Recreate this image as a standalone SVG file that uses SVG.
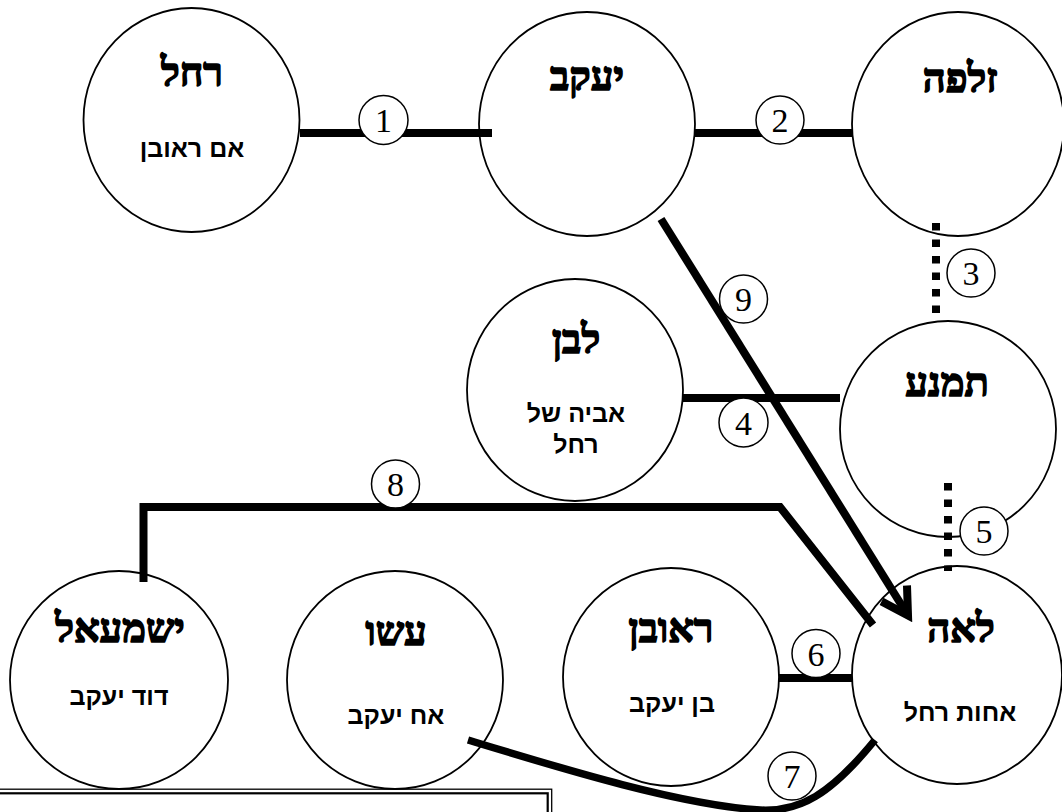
<svg xmlns="http://www.w3.org/2000/svg" width="1062" height="812" viewBox="0 0 1062 812">
<style>
.node{fill:#fff;stroke:#000;stroke-width:1.8}
.title{font-family:"Liberation Serif","DejaVu Serif",serif;font-weight:bold;font-size:40px;text-anchor:middle;fill:#000;stroke:#000;stroke-width:1.6;stroke-linejoin:round}
.sub{font-family:"Liberation Sans","DejaVu Sans",sans-serif;font-weight:bold;font-size:25px;text-anchor:middle;fill:#000}
.conn{fill:none;stroke:#000;stroke-width:8}
.dot{fill:none;stroke:#000;stroke-width:8;stroke-dasharray:7.5 9}
.lbl circle{fill:#fff;stroke:#000;stroke-width:1.5}
.lbl text{font-family:"Liberation Serif",serif;font-size:34px;text-anchor:middle;fill:#000}
</style>
<defs>
<marker id="arrow" markerUnits="userSpaceOnUse" viewBox="-36 -24 44 48" markerWidth="44" markerHeight="48" refX="0" refY="0" orient="auto">
<path d="M-26,-15 L0,0 L-26,15" fill="none" stroke="#000" stroke-width="8" stroke-linejoin="miter"/>
</marker>
</defs>
<rect width="1062" height="812" fill="#fff"/>
<g id="frame">
<rect x="-10" y="789.2" width="561.7" height="60" fill="none" stroke="#000" stroke-width="1.3"/>
<rect x="-10" y="793.3" width="557.7" height="60" fill="none" stroke="#000" stroke-width="2.2"/>
</g>
<g id="rachel"><ellipse class="node" cx="191.5" cy="120" rx="108" ry="112"/><text class="title" x="192" y="86">רחל</text><text class="sub" x="192" y="157">אם ראובן</text></g>
<g id="yaakov"><ellipse class="node" cx="587" cy="124" rx="108" ry="112"/><text class="title" x="587" y="90">יעקב</text></g>
<g id="zilpa"><ellipse class="node" cx="958" cy="124" rx="106" ry="112"/><text class="title" x="960" y="92">זלפה</text></g>
<g id="lavan"><ellipse class="node" cx="575" cy="390" rx="108" ry="111"/><text class="title" x="576" y="353">לבן</text><text class="sub" x="576" y="422">אביה של</text><text class="sub" x="576" y="453">רחל</text></g>
<g id="timna"><ellipse class="node" cx="948" cy="429" rx="108" ry="108"/><text class="title" x="947" y="396">תמנע</text></g>
<g id="yishmael"><ellipse class="node" cx="119" cy="680" rx="109" ry="109"/><text class="title" x="120" y="642">ישמעאל</text><text class="sub" x="119" y="705">דוד יעקב</text></g>
<g id="esav"><ellipse class="node" cx="395" cy="680" rx="108" ry="109"/><text class="title" x="396" y="645">עשו</text><text class="sub" x="396" y="724">אח יעקב</text></g>
<g id="reuven"><ellipse class="node" cx="671" cy="677" rx="108" ry="109"/><text class="title" x="671" y="642">ראובן</text><text class="sub" x="672" y="712">בן יעקב</text></g>
<g id="leah"><ellipse class="node" cx="957" cy="675" rx="105" ry="109"/><text class="title" x="961" y="642">לאה</text><text class="sub" x="960" y="721">אחות רחל</text></g>
<g id="connectors">
<line class="conn" x1="300" y1="133" x2="492" y2="133"/>
<line class="conn" x1="694" y1="133" x2="852" y2="133"/>
<line class="dot" x1="936" y1="223" x2="936" y2="314"/>
<line class="conn" x1="683" y1="398" x2="840" y2="398"/>
<line class="dot" x1="948" y1="483" x2="948" y2="571"/>
<line class="conn" x1="779" y1="678" x2="852" y2="678"/>
<path class="conn" style="stroke-width:7.5" d="M468,740 C560,768 680,805 760,810 C800,812 830,795 875,740"/>
<polyline class="conn" style="stroke-linejoin:miter" points="143.5,582 143.5,507 780,507 873,625"/>
<path class="conn" d="M661,219 L908,615.5" marker-end="url(#arrow)"/>
</g>
<g id="labels" class="lbl">
<g><circle cx="383.5" cy="120" r="24.5"/><text x="383.5" y="132">1</text></g>
<g><circle cx="780" cy="120" r="24"/><text x="780" y="132">2</text></g>
<g><circle cx="971" cy="273" r="24"/><text x="971" y="285">3</text></g>
<g><circle cx="743.5" cy="422.5" r="24.5"/><text x="743.5" y="434.5">4</text></g>
<g><circle cx="984" cy="531" r="24"/><text x="984" y="543">5</text></g>
<g><circle cx="816" cy="653.5" r="24"/><text x="816" y="665.5">6</text></g>
<g><circle cx="792" cy="776" r="24"/><text x="792" y="788">7</text></g>
<g><circle cx="395.5" cy="484" r="24"/><text x="395.5" y="496">8</text></g>
<g><circle cx="743.5" cy="299" r="24"/><text x="743.5" y="311">9</text></g>
</g>
</svg>
